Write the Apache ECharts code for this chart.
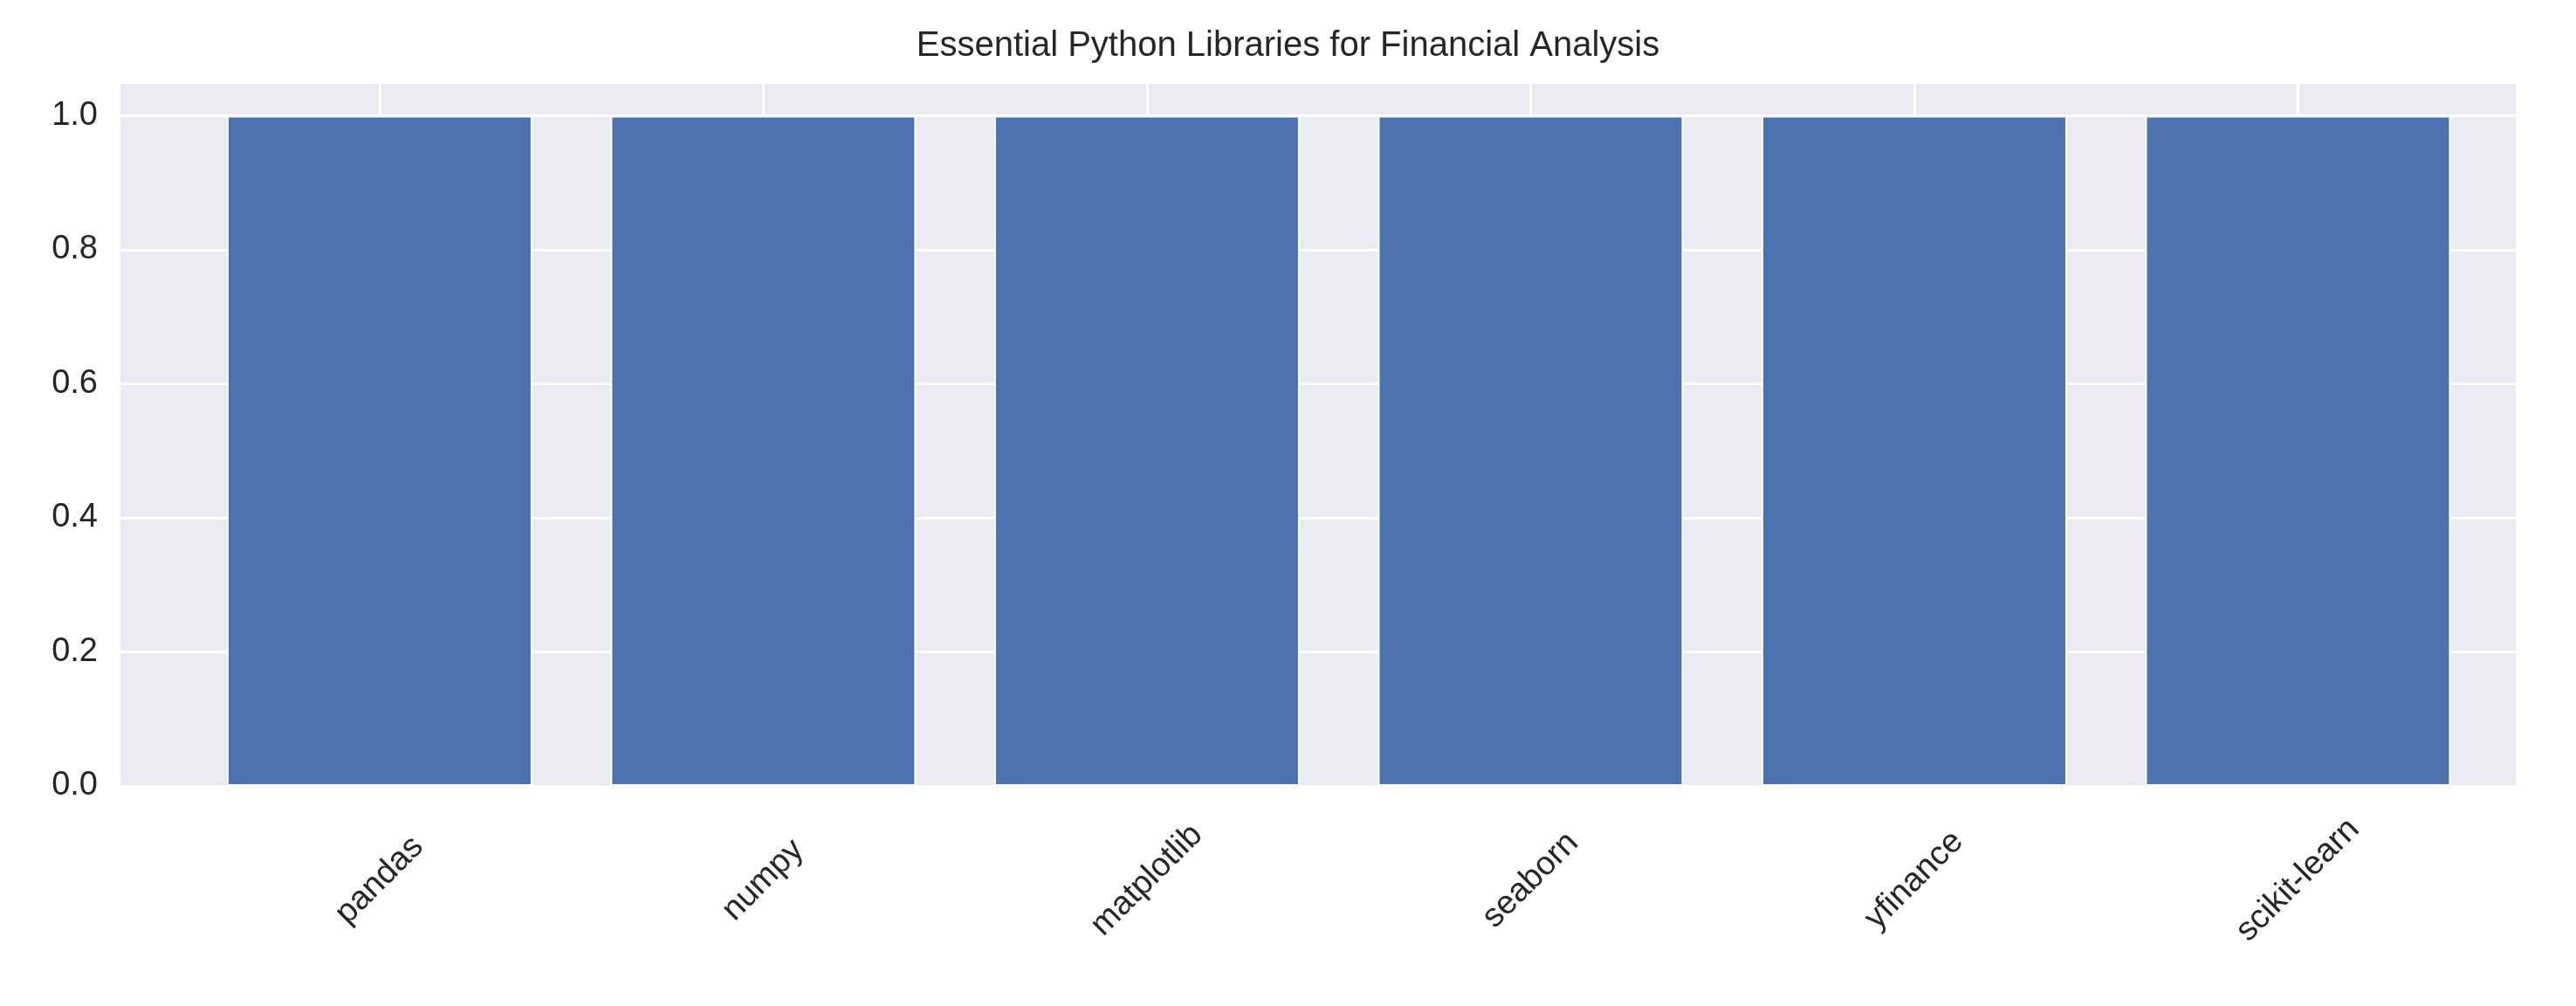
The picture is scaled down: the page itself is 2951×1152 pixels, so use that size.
<!DOCTYPE html>
<html>
<head>
<meta charset="utf-8">
<script src="https://cdn.jsdelivr.net/npm/echarts@6/dist/echarts.min.js"></script>
<style>html,body{margin:0;padding:0;background:#fff;}</style>
</head>
<body>
<div id="chart" style="width:2951px;height:1152px;"></div>
<script>
    var libraries = ['pandas', 'numpy', 'matplotlib', 'seaborn', 'yfinance', 'scikit-learn'];
    var usage = [1, 1, 1, 1, 1, 1];

    var myChart = echarts.init(document.getElementById('chart'));

    var option = {
        animation: false,
        title: {
            text: 'Essential Python Libraries for Financial Analysis',
            left: 'center',
            top: 28,
            textStyle: {fontFamily: 'Arial, Liberation Sans', fontSize: 40, fontWeight: 'normal', color: '#262626'}
        },
        grid: {
            left: 136, right: 68, top: 94, bottom: 252,
            show: true, backgroundColor: '#EAEAF2', borderWidth: 0
        },
        xAxis: {
            type: 'value',
            min: -0.68, max: 5.57,
            minInterval: 1, maxInterval: 1,
            axisLine: {show: false},
            axisTick: {show: false},
            splitLine: {show: true, lineStyle: {color: '#fff', width: 3}},
            axisLabel: {
                showMinLabel: false, showMaxLabel: false,
                rotate: 45, align: 'center', verticalAlign: 'middle', margin: 108,
                fontFamily: 'Arial, Liberation Sans', fontSize: 38, color: '#262626',
                formatter: function (v) { return libraries[Math.round(v)] || ''; }
            }
        },
        yAxis: {
            type: 'value',
            min: 0, max: 1.05, interval: 0.2,
            axisLine: {show: false},
            axisTick: {show: false},
            splitLine: {lineStyle: {color: '#fff', width: 3}},
            axisLabel: {
                showMaxLabel: false, margin: 24,
                fontFamily: 'Arial, Liberation Sans', fontSize: 38, color: '#262626',
                formatter: function (v) { return v.toFixed(1); }
            }
        },
        series: [{
            type: 'bar',
            barWidth: 350,
            data: usage.map(function (v, i) { return [i, v]; }),
            itemStyle: {color: '#4C72B0', borderColor: '#fff', borderWidth: 2}
        }]
    };

    myChart.setOption(option);
</script>
</body>
</html>
